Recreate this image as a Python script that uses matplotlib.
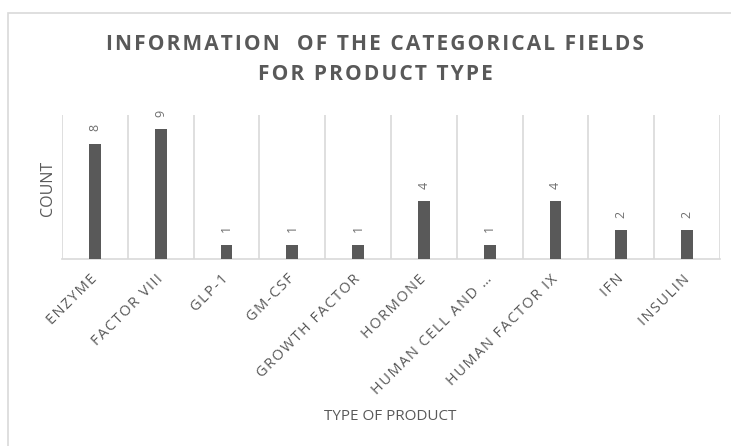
import matplotlib
matplotlib.use("Agg")
import matplotlib.pyplot as plt
from matplotlib.patches import Rectangle

categories = ["ENZYME", "FACTOR VIII", "GLP-1", "GM-CSF", "GROWTH FACTOR",
              "HORMONE", "HUMAN CELL AND \u2026", "HUMAN FACTOR IX", "IFN", "INSULIN"]
counts = [8, 9, 1, 1, 1, 4, 1, 4, 2, 2]

title_lines = ["INFORMATION  OF THE CATEGORICAL FIELDS", "FOR PRODUCT TYPE"]
x_title = "TYPE OF PRODUCT"
y_title = "COUNT"

text_color = "#595959"
bar_color = "#595959"
grid_color = "#d9d9d9"

plt.rcParams["font.family"] = ["Open Sans", "DejaVu Sans"]


def tracked(s, gap="\u200a"):
    """Widen letter spacing by putting a hair space between characters."""
    return gap.join(s)


fig = plt.figure(figsize=(7.31, 4.46), dpi=100)
W, H = 731, 446

# chart frame
fig.patches.append(Rectangle((8 / W, -0.1), 1.0, 1 - 13 / H + 0.1,
                             transform=fig.transFigure, fill=False,
                             edgecolor=grid_color, linewidth=1.2))

ax = fig.add_axes([62 / W, 1 - 259 / H, (720 - 62) / W, (259 - 115) / H])
x = list(range(len(categories)))
bars = ax.bar(x, counts, width=0.18, color=bar_color, zorder=3)

ax.set_xlim(-0.5, len(categories) - 0.5)
ax.set_ylim(0, 10)

# vertical separators between categories
ax.set_xticks([i - 0.5 for i in range(len(categories) + 1)], minor=True)
ax.grid(True, which="minor", axis="x", color=grid_color, linewidth=1.2, zorder=0)
ax.tick_params(which="both", length=0)
ax.set_yticks([])
for s in ["top", "right", "left"]:
    ax.spines[s].set_visible(False)
ax.spines["bottom"].set_color(grid_color)
ax.spines["bottom"].set_linewidth(1.2)

ax.set_xticks(x)
ax.set_xticklabels([tracked(c) for c in categories], rotation=45,
                   ha="right", va="center", rotation_mode="anchor",
                   fontsize=10.5, color=text_color)
ax.tick_params(axis="x", pad=13)

for rect, v in zip(bars, counts):
    ax.annotate(str(v), (rect.get_x() + rect.get_width() / 2, v),
                xytext=(0, 9), textcoords="offset points",
                ha="center", va="bottom", rotation=90,
                fontsize=9, color="#6f6f6f")

fig.text(47.5 / W, 1 - 188 / H, y_title, rotation=90, ha="center", va="center",
         fontsize=11.5, color=text_color)
fig.text(390 / W, 1 - 417 / H, x_title, ha="center", va="center",
         fontsize=11, color=text_color)
fig.text(375 / W, 1 - 45 / H, tracked(title_lines[0]), ha="center", va="center",
         fontsize=15, fontweight="bold", color=text_color)
fig.text(375 / W, 1 - 74 / H, tracked(title_lines[1]), ha="center", va="center",
         fontsize=15, fontweight="bold", color=text_color)

fig.savefig("out.png", dpi=100)
